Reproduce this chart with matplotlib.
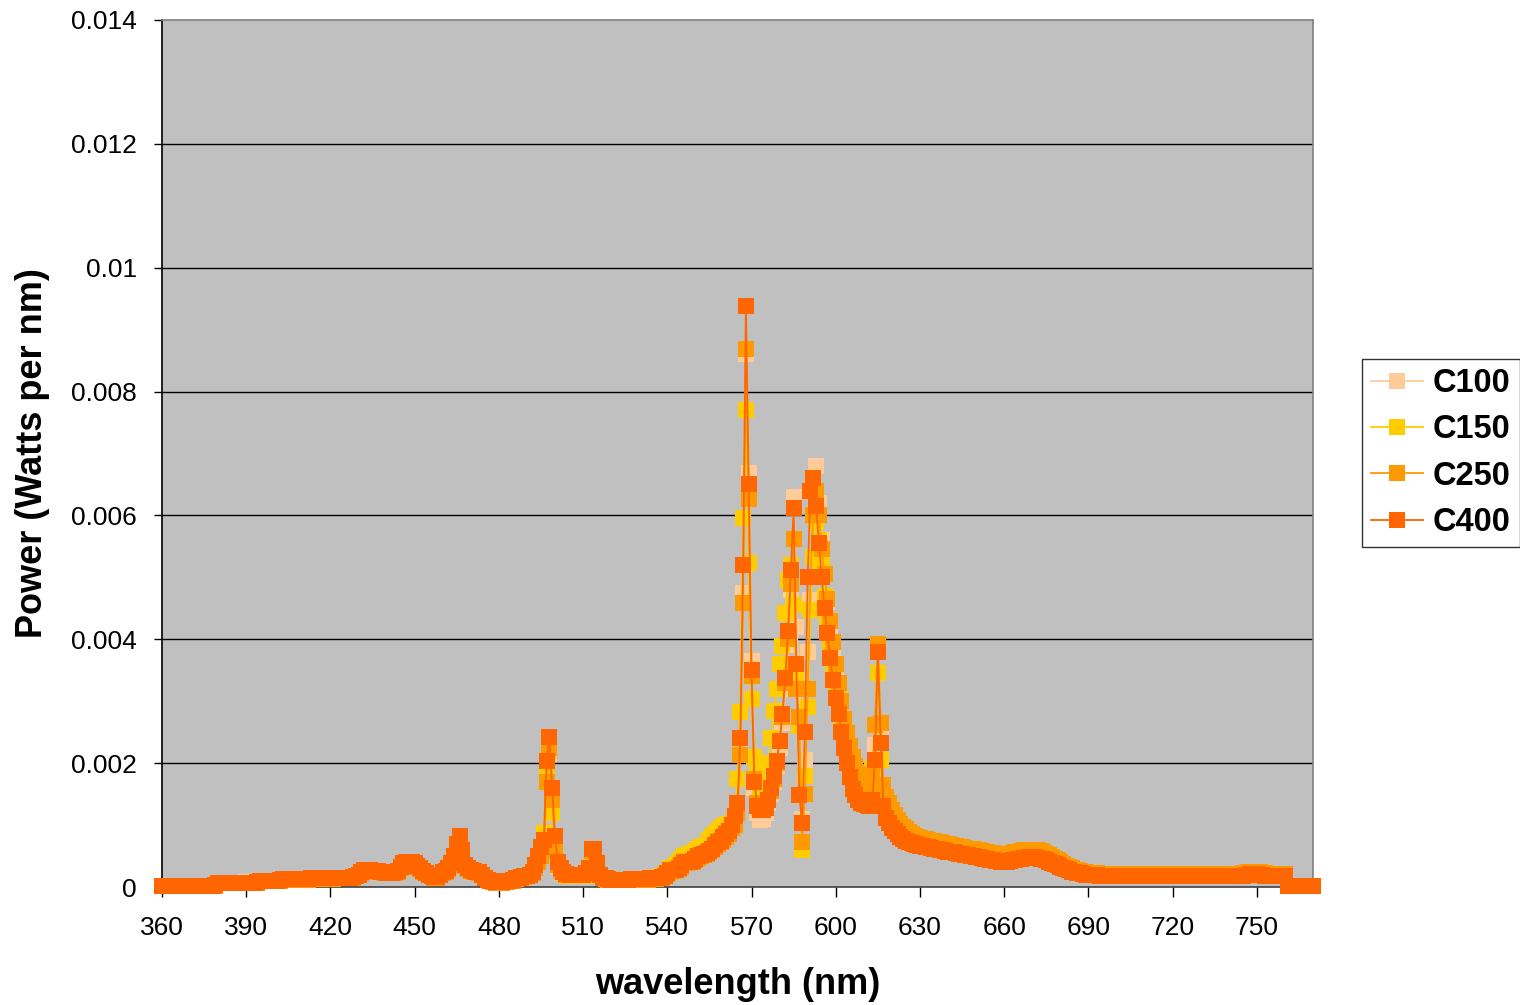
import numpy as np
import matplotlib
matplotlib.use("Agg")
import matplotlib.pyplot as plt
from matplotlib.ticker import FixedLocator, FuncFormatter

plt.rcParams['font.family'] = ['Liberation Sans', 'DejaVu Sans']

# wavelength categories (nm), 1 nm steps
wavelength = np.arange(360, 771)

# spectral power, in units of 1e-5 W per nm, one row per 10 nm
c400 = [
    2, 2, 2, 2, 2, 2, 2, 2, 2, 2,
    2, 2, 2, 2, 2, 2, 2, 2, 2, 3,
    7, 7, 7, 7, 7, 7, 7, 7, 7, 7,
    7, 7, 7, 7, 8, 10, 10, 10, 10, 10,
    10, 10, 11, 13, 13, 13, 13, 13, 13, 13,
    13, 13, 13, 14, 14, 14, 14, 14, 14, 14,
    14, 14, 15, 15, 15, 15, 15, 15, 16, 18,
    20, 24, 27, 28, 27, 26, 26, 26, 25, 24,
    23, 23, 23, 24, 26, 32, 38, 40, 41, 40,
    38, 34, 30, 26, 23, 20, 18, 16, 16, 20,
    24, 26, 30, 38, 50, 70, 82, 60, 36, 30,
    27, 26, 25, 24, 20, 15, 12, 10, 9, 8,
    8, 8, 9, 9, 10, 11, 14, 15, 16, 17,
    18, 20, 25, 35, 50, 65, 76, 204, 243, 160,
    82, 40, 30, 25, 21, 20, 20, 20, 20, 20,
    20, 22, 30, 62, 62, 38, 20, 15, 14, 13,
    12, 12, 12, 12, 12, 12, 12, 13, 13, 13,
    13, 13, 13, 13, 14, 14, 14, 15, 16, 18,
    22, 27, 27, 28, 30, 35, 40, 40, 41, 42,
    45, 50, 52, 53, 55, 58, 62, 68, 72, 75,
    80, 85, 90, 100, 115, 135, 240, 520, 938, 650,
    350, 170, 130, 124, 124, 128, 140, 160, 180, 204,
    236, 280, 338, 413, 512, 612, 360, 149, 104, 250,
    500, 640, 660, 615, 555, 500, 450, 410, 370, 335,
    305, 280, 250, 224, 200, 178, 158, 148, 140, 136,
    134, 132, 130, 140, 205, 380, 232, 130, 112, 103,
    96, 90, 85, 81, 78, 75, 73, 71, 69, 68,
    67, 66, 65, 64, 63, 62, 61, 60, 59, 58,
    57, 56, 56, 55, 54, 53, 52, 51, 50, 50,
    49, 48, 47, 46, 45, 44, 43, 42, 42, 41,
    41, 41, 42, 43, 44, 45, 46, 47, 47, 48,
    48, 48, 47, 46, 45, 43, 41, 39, 37, 35,
    33, 31, 29, 27, 25, 24, 23, 22, 21, 20,
    20, 19, 19, 19, 18, 18, 18, 18, 18, 18,
    18, 18, 18, 18, 18, 18, 18, 18, 18, 18,
    18, 18, 18, 18, 18, 18, 18, 18, 18, 18,
    18, 18, 18, 18, 18, 18, 18, 18, 18, 18,
    18, 18, 18, 18, 18, 18, 18, 18, 18, 18,
    18, 18, 18, 18, 18, 18, 19, 20, 21, 21,
    21, 20, 19, 18, 18, 18, 18, 18, 18, 18,
    18, 2, 2, 2, 2, 2, 2, 2, 2, 2,
    2,
]

c250 = [
    1, 1, 1, 1, 1, 1, 1, 1, 1, 1,
    1, 1, 1, 1, 1, 1, 1, 1, 1, 2,
    6, 6, 6, 6, 6, 6, 6, 6, 6, 6,
    6, 6, 6, 6, 7, 9, 9, 9, 9, 9,
    9, 9, 10, 12, 12, 12, 12, 12, 12, 12,
    12, 12, 12, 13, 13, 13, 13, 13, 13, 13,
    13, 13, 14, 14, 14, 14, 14, 14, 15, 17,
    19, 23, 26, 27, 26, 25, 25, 25, 24, 23,
    22, 22, 22, 23, 25, 31, 37, 39, 40, 39,
    37, 33, 29, 25, 22, 19, 17, 15, 15, 19,
    23, 25, 29, 36, 48, 66, 78, 57, 34, 29,
    26, 25, 24, 23, 19, 14, 11, 9, 8, 7,
    7, 7, 8, 8, 9, 10, 13, 14, 15, 16,
    17, 19, 23, 30, 40, 50, 60, 170, 225, 140,
    60, 35, 28, 24, 20, 19, 19, 19, 19, 19,
    19, 21, 28, 58, 60, 35, 19, 14, 13, 12,
    11, 11, 11, 11, 11, 11, 11, 12, 12, 12,
    12, 12, 12, 12, 13, 13, 13, 14, 15, 17,
    21, 25, 26, 27, 29, 33, 38, 39, 40, 41,
    43, 47, 50, 51, 53, 56, 60, 65, 69, 72,
    76, 80, 86, 95, 100, 120, 213, 458, 868, 626,
    340, 175, 135, 128, 128, 130, 140, 155, 175, 200,
    235, 275, 330, 400, 490, 562, 320, 274, 73, 150,
    320, 500, 600, 640, 600, 545, 505, 465, 430, 395,
    360, 330, 300, 272, 248, 228, 210, 195, 182, 172,
    165, 162, 165, 180, 262, 392, 265, 165, 145, 135,
    125, 116, 108, 102, 97, 93, 89, 86, 83, 81,
    79, 78, 77, 76, 75, 74, 73, 72, 71, 70,
    69, 68, 67, 66, 65, 64, 63, 62, 61, 61,
    60, 59, 58, 57, 56, 55, 55, 54, 54, 53,
    53, 53, 54, 55, 56, 57, 58, 59, 59, 60,
    60, 60, 59, 58, 56, 54, 52, 49, 46, 43,
    40, 37, 34, 32, 30, 28, 27, 26, 25, 24,
    23, 22, 22, 22, 21, 21, 21, 21, 21, 21,
    21, 21, 21, 21, 21, 21, 21, 21, 21, 21,
    21, 21, 21, 21, 21, 21, 21, 21, 21, 21,
    21, 21, 21, 21, 21, 21, 21, 21, 21, 21,
    21, 21, 21, 21, 21, 21, 21, 21, 21, 21,
    21, 21, 21, 21, 21, 22, 23, 24, 25, 25,
    25, 24, 23, 22, 21, 21, 21, 21, 21, 21,
    21, 1, 1, 1, 1, 1, 1, 1, 1, 1,
    1,
]

c150 = [
    1, 1, 1, 1, 1, 1, 1, 1, 1, 1,
    1, 1, 1, 1, 1, 1, 1, 1, 1, 2,
    6, 6, 6, 6, 6, 6, 6, 6, 6, 6,
    6, 6, 6, 6, 7, 9, 9, 9, 9, 9,
    9, 9, 10, 12, 12, 12, 12, 12, 12, 12,
    12, 12, 12, 13, 13, 13, 13, 13, 13, 13,
    13, 13, 14, 14, 14, 14, 14, 14, 15, 17,
    19, 23, 26, 27, 26, 25, 25, 25, 24, 23,
    22, 22, 22, 23, 25, 31, 37, 39, 40, 39,
    37, 33, 29, 25, 22, 19, 17, 15, 15, 19,
    23, 25, 29, 36, 48, 66, 78, 57, 34, 29,
    26, 25, 24, 23, 19, 14, 11, 9, 8, 7,
    7, 7, 8, 8, 9, 10, 13, 14, 15, 16,
    17, 19, 22, 30, 40, 50, 87, 186, 220, 119,
    62, 35, 27, 23, 19, 18, 18, 18, 18, 18,
    18, 20, 28, 55, 58, 34, 18, 14, 13, 12,
    11, 11, 11, 11, 11, 11, 11, 12, 12, 12,
    12, 12, 12, 13, 14, 14, 15, 16, 18, 20,
    24, 30, 32, 35, 40, 45, 50, 52, 53, 55,
    58, 62, 65, 66, 68, 76, 80, 85, 90, 95,
    98, 100, 102, 103, 105, 174, 282, 596, 771, 523,
    304, 210, 190, 160, 150, 170, 200, 240, 284, 320,
    360, 389, 443, 496, 520, 455, 340, 260, 60, 180,
    290, 447, 533, 590, 560, 520, 470, 430, 395, 360,
    330, 305, 275, 250, 228, 205, 185, 170, 160, 155,
    155, 155, 160, 190, 262, 346, 205, 140, 125, 115,
    108, 102, 96, 91, 87, 84, 81, 78, 76, 74,
    73, 72, 71, 70, 69, 68, 67, 66, 65, 64,
    63, 62, 62, 61, 60, 59, 58, 57, 56, 56,
    55, 54, 53, 52, 51, 50, 49, 48, 48, 47,
    47, 47, 48, 49, 50, 51, 52, 53, 53, 54,
    54, 54, 53, 52, 51, 49, 47, 44, 41, 39,
    37, 34, 31, 29, 27, 26, 25, 24, 23, 22,
    21, 21, 20, 20, 20, 20, 20, 20, 20, 20,
    20, 20, 20, 20, 20, 20, 20, 20, 20, 20,
    20, 20, 20, 20, 20, 20, 20, 20, 20, 20,
    20, 20, 20, 20, 20, 20, 20, 20, 20, 20,
    20, 20, 20, 20, 20, 20, 20, 20, 20, 20,
    20, 20, 20, 20, 20, 20, 21, 22, 23, 23,
    23, 22, 21, 20, 20, 20, 20, 20, 20, 20,
    20, 1, 1, 1, 1, 1, 1, 1, 1, 1,
    1,
]

c100 = [
    1, 1, 1, 1, 1, 1, 1, 1, 1, 1,
    1, 1, 1, 1, 1, 1, 1, 1, 1, 2,
    6, 6, 6, 6, 6, 6, 6, 6, 6, 6,
    8, 8, 8, 8, 8, 9, 9, 9, 9, 9,
    9, 9, 10, 12, 12, 12, 12, 12, 12, 12,
    12, 12, 12, 13, 13, 13, 13, 13, 13, 13,
    13, 13, 14, 14, 14, 14, 14, 14, 15, 17,
    19, 23, 26, 27, 26, 25, 25, 25, 24, 23,
    22, 22, 22, 23, 25, 31, 37, 39, 40, 39,
    37, 33, 29, 25, 22, 19, 17, 15, 15, 19,
    23, 25, 29, 36, 48, 66, 78, 57, 34, 29,
    26, 25, 24, 23, 19, 14, 11, 9, 8, 7,
    7, 7, 8, 8, 9, 10, 13, 14, 15, 16,
    17, 19, 22, 30, 40, 50, 70, 180, 215, 130,
    60, 34, 27, 23, 19, 18, 18, 18, 18, 18,
    18, 20, 28, 56, 59, 34, 18, 14, 13, 12,
    11, 11, 11, 11, 11, 11, 11, 12, 12, 12,
    12, 12, 12, 12, 13, 14, 14, 15, 16, 18,
    22, 27, 28, 30, 33, 38, 43, 45, 46, 48,
    50, 54, 57, 58, 60, 64, 68, 74, 79, 82,
    86, 90, 94, 98, 102, 130, 220, 475, 860, 669,
    365, 160, 120, 108, 110, 120, 135, 150, 170, 195,
    225, 265, 320, 390, 480, 629, 420, 340, 110, 205,
    380, 463, 600, 680, 620, 560, 505, 460, 420, 380,
    345, 315, 285, 258, 234, 212, 193, 178, 166, 158,
    152, 150, 150, 160, 230, 380, 240, 150, 128, 118,
    110, 104, 98, 93, 89, 86, 83, 80, 78, 76,
    73, 72, 71, 70, 69, 68, 67, 66, 65, 64,
    63, 62, 62, 61, 60, 59, 58, 57, 56, 56,
    55, 54, 53, 52, 51, 50, 49, 48, 48, 47,
    47, 47, 48, 49, 50, 51, 52, 53, 53, 54,
    54, 54, 53, 52, 51, 49, 47, 44, 41, 39,
    37, 34, 31, 29, 27, 26, 25, 24, 23, 22,
    21, 21, 20, 20, 20, 20, 20, 20, 20, 20,
    20, 20, 20, 20, 20, 20, 20, 20, 20, 20,
    20, 20, 20, 20, 20, 20, 20, 20, 20, 20,
    20, 20, 20, 20, 20, 20, 20, 20, 20, 20,
    20, 20, 20, 20, 20, 20, 20, 20, 20, 20,
    20, 20, 20, 20, 20, 20, 21, 22, 23, 23,
    23, 22, 21, 20, 20, 20, 20, 20, 20, 20,
    20, 1, 1, 1, 1, 1, 1, 1, 1, 1,
    1,
]

UNIT = 1e-5  # W per nm
series_names = ["C100", "C150", "C250", "C400"]
series_values = [c100, c150, c250, c400]
series_colors = ["#FFCC99", "#FFCC00", "#FF9900", "#FF6600"]

x_ticks = list(range(360, 751, 30))
y_ticks = [0, 0.002, 0.004, 0.006, 0.008, 0.010, 0.012, 0.014]

W, H = 1520, 1005
fig = plt.figure(figsize=(W / 100, H / 100), dpi=100)
ax = fig.add_axes([162 / W, 1 - 887 / H, (1313 - 162) / W, (887 - 20) / H])
ax.set_facecolor("#C0C0C0")

for name, vals, col in zip(series_names, series_values, series_colors):
    y = np.asarray(vals, dtype=float) * UNIT
    assert len(y) == len(wavelength)
    ax.plot(wavelength, y, color=col, lw=1.3, marker="s", markersize=12.2,
            markeredgewidth=0, label=name, clip_on=False, zorder=3)

ax.set_xlim(360, 770)
ax.set_ylim(0, 0.014)

ax.yaxis.set_major_locator(FixedLocator(y_ticks))
ax.xaxis.set_major_locator(FixedLocator(x_ticks))
ax.yaxis.set_major_formatter(FuncFormatter(lambda v, p: "0" if v == 0 else ("%g" % round(v, 4))))
ax.xaxis.set_major_formatter(FuncFormatter(lambda v, p: "%d" % v))

for yv in y_ticks[1:-1]:
    ax.axhline(yv, color="black", lw=1.0, zorder=1)

for s in ["top", "right"]:
    ax.spines[s].set_color("#808080")
    ax.spines[s].set_linewidth(1.2)
ax.spines["left"].set_color("black")
ax.spines["bottom"].set_color("#404040")
ax.spines["left"].set_linewidth(1.2)
ax.spines["bottom"].set_linewidth(1.2)

ax.tick_params(axis="y", direction="out", length=6, width=1, labelsize=19, pad=12)
ax.tick_params(axis="x", direction="out", length=7, width=1, labelsize=19, pad=14)

ax.set_xlabel("wavelength (nm)", fontsize=26, fontweight="bold")
ax.set_ylabel("Power (Watts per nm)", fontsize=26, fontweight="bold")
ax.xaxis.set_label_coords(0.5, -0.092)
ax.yaxis.set_label_coords(-0.097, 0.5)

leg = fig.legend(loc="upper left", bbox_to_anchor=(1362 / W, 1 - 359 / H),
                 bbox_transform=fig.transFigure, frameon=True, fancybox=False,
                 prop={"size": 23.5, "weight": "bold"}, handlelength=1.6,
                 handletextpad=0.28, labelspacing=0.47, borderpad=0.28,
                 borderaxespad=0)
leg.get_frame().set_edgecolor("black")
leg.get_frame().set_linewidth(1.0)

fig.savefig("out.png", dpi=100, facecolor="white")
